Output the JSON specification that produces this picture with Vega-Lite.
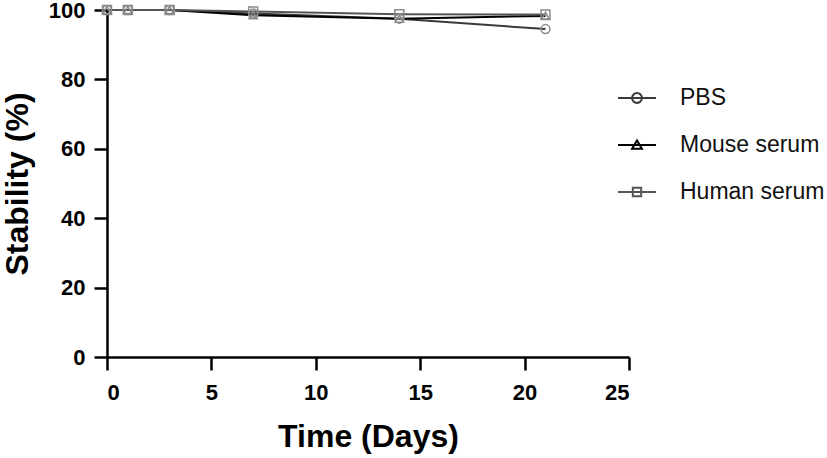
{
  "$schema": "https://vega.github.io/schema/vega-lite/v6.json",
  "width": 522,
  "height": 347,
  "autosize": {"type": "none"},
  "padding": {"left": 107, "top": 10, "right": 198, "bottom": 101},
  "background": "white",
  "config": {
    "view": {"stroke": null},
    "font": "Liberation Sans",
    "axis": {
      "grid": false,
      "domainColor": "black",
      "domainWidth": 2.5,
      "tickColor": "black",
      "tickWidth": 2.5,
      "tickSize": 13,
      "labelFont": "Liberation Sans",
      "labelFontWeight": "bold",
      "labelFontSize": 22,
      "labelColor": "black",
      "labelPadding": 8,
      "titleFont": "Liberation Sans",
      "titleFontWeight": "bold",
      "titleFontSize": 32,
      "titleColor": "black"
    }
  },
  "data": {
    "values": [
      {"time": 0, "medium": "PBS", "stability": 100},
      {"time": 1, "medium": "PBS", "stability": 100},
      {"time": 3, "medium": "PBS", "stability": 100},
      {"time": 7, "medium": "PBS", "stability": 99},
      {"time": 14, "medium": "PBS", "stability": 97.5},
      {"time": 21, "medium": "PBS", "stability": 94.5},
      {"time": 0, "medium": "Mouse serum", "stability": 100},
      {"time": 1, "medium": "Mouse serum", "stability": 100},
      {"time": 3, "medium": "Mouse serum", "stability": 100},
      {"time": 7, "medium": "Mouse serum", "stability": 98.5},
      {"time": 14, "medium": "Mouse serum", "stability": 97.5},
      {"time": 21, "medium": "Mouse serum", "stability": 98.3},
      {"time": 0, "medium": "Human serum", "stability": 100},
      {"time": 1, "medium": "Human serum", "stability": 100},
      {"time": 3, "medium": "Human serum", "stability": 100},
      {"time": 7, "medium": "Human serum", "stability": 99.6},
      {"time": 14, "medium": "Human serum", "stability": 98.8},
      {"time": 21, "medium": "Human serum", "stability": 98.7}
    ]
  },
  "encoding": {
    "x": {
      "field": "time",
      "type": "quantitative",
      "scale": {"domain": [0, 25], "nice": false, "zero": false},
      "axis": {"values": [0, 5, 10, 15, 20, 25], "title": "Time (Days)", "titlePadding": 18, "labelPadding": 12}
    },
    "y": {
      "field": "stability",
      "type": "quantitative",
      "scale": {"domain": [0, 100], "nice": false},
      "axis": {"values": [0, 20, 40, 60, 80, 100], "title": "Stability (%)", "titlePadding": 14, "labelPadding": 9}
    }
  },
  "layer": [
    {
      "mark": {"type": "line", "strokeWidth": 2},
      "encoding": {
        "color": {
          "field": "medium",
          "type": "nominal",
          "sort": ["PBS", "Mouse serum", "Human serum"],
          "scale": {"domain": ["PBS", "Mouse serum", "Human serum"], "range": ["#3a3a3a", "#000000", "#555555"]},
          "legend": {
            "title": null,
            "orient": "none",
            "legendX": 510,
            "legendY": 68,
            "symbolSize": 1444,
            "symbolStrokeWidth": 2,
            "rowPadding": 15,
            "labelOffset": 23,
            "labelFontSize": 23,
            "labelFont": "Liberation Sans",
            "labelColor": "#111111",
            "encode": {
              "symbols": {
                "update": {
                  "shape": {"signal": "datum.value === 'PBS' ? 'M-1,0H1M0.26,0A0.26,0.26,0,1,1,-0.26,0A0.26,0.26,0,1,1,0.26,0' : datum.value === 'Mouse serum' ? 'M-1,0H1M0,-0.24L0.26,0.2L-0.26,0.2Z' : 'M-1,0H1M-0.22,-0.22H0.22V0.22H-0.22Z'"},
                  "fill": {"value": "transparent"}
                }
              }
            }
          }
        }
      }
    },
    {
      "transform": [{"filter": "datum.medium === 'PBS'"}],
      "mark": {"type": "point", "shape": "circle", "filled": false, "size": 80, "stroke": "#8a8a8a", "strokeWidth": 1.5, "opacity": 1}
    },
    {
      "transform": [{"filter": "datum.medium === 'Mouse serum'"}],
      "mark": {"type": "point", "shape": "triangle-up", "filled": false, "size": 70, "stroke": "#8a8a8a", "strokeWidth": 1.5, "opacity": 1}
    },
    {
      "transform": [{"filter": "datum.medium === 'Human serum'"}],
      "mark": {"type": "point", "shape": "square", "filled": false, "size": 80, "stroke": "#8a8a8a", "strokeWidth": 1.5, "opacity": 1}
    }
  ]
}
